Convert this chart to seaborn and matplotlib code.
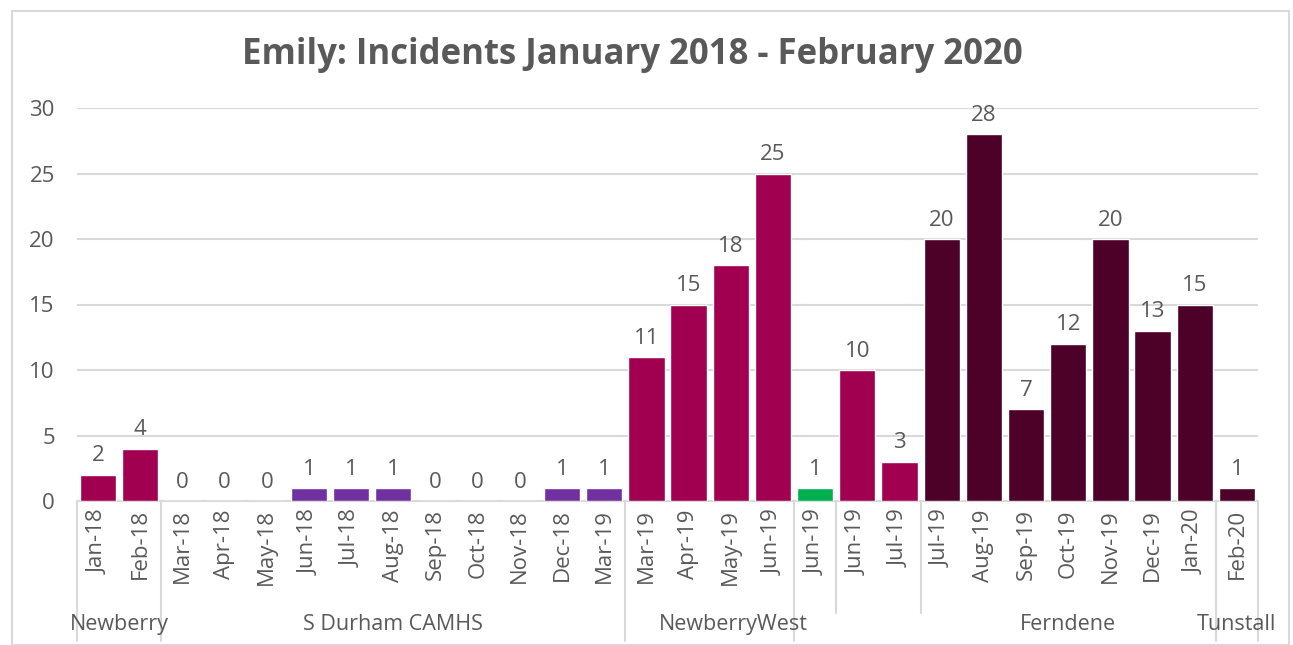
import matplotlib

matplotlib.use("Agg")
import matplotlib.pyplot as plt
import seaborn as sns
from matplotlib.lines import Line2D
from matplotlib.patches import Rectangle

# Month labels (some months repeat where Emily moved between units)
months = [
    "Jan-18", "Feb-18", "Mar-18", "Apr-18", "May-18", "Jun-18", "Jul-18",
    "Aug-18", "Sep-18", "Oct-18", "Nov-18", "Dec-18", "Mar-19", "Mar-19",
    "Apr-19", "May-19", "Jun-19", "Jun-19", "Jun-19", "Jul-19", "Jul-19",
    "Aug-19", "Sep-19", "Oct-19", "Nov-19", "Dec-19", "Jan-20", "Feb-20",
]
incidents = [2, 4, 0, 0, 0, 1, 1, 1, 0, 0, 0, 1, 1, 11, 15, 18, 25, 1, 10, 3,
             20, 28, 7, 12, 20, 13, 15, 1]
# unit each bar belongs to
units = ["Newberry"] * 2 + ["S Durham CAMHS"] * 11 + ["NewberryWest"] * 4 + \
        ["Green"] + ["Newberry2"] * 2 + ["Ferndene"] * 7 + ["Tunstall"]
unit_colors = {
    "Newberry": "#A0004F",
    "S Durham CAMHS": "#7030A0",
    "NewberryWest": "#A0004F",
    "Green": "#00B050",
    "Newberry2": "#A0004F",
    "Ferndene": "#4D0028",
    "Tunstall": "#4D0028",
}
# visible group captions along the bottom (label, first index, last index)
group_labels = [("Newberry", 0, 1), ("S Durham CAMHS", 2, 12),
                ("NewberryWest", 13, 17.1), ("Ferndene", 20, 26), ("Tunstall", 27, 27)]

TEXT = "#595959"
GRID = "#D9D9D9"

sns.set_theme(style="white")
plt.rcParams["font.family"] = ["Open Sans", "DejaVu Sans"]

fig = plt.figure(figsize=(12.93, 6.45), dpi=100)
ax = fig.add_axes([77 / 1293, 144 / 645, 1181 / 1293, 393 / 645])

pos = list(range(len(months)))
colors = [unit_colors[u] for u in units]
sns.barplot(x=pos, y=incidents, hue=pos, palette=colors, legend=False,
            width=0.86, saturation=1, ax=ax, zorder=3)

for c in ax.containers:
    ax.bar_label(c, padding=6, fontsize=16, color=TEXT)

ax.set_xlim(-0.5, len(months) - 0.5)
ax.set_ylim(0, 30)
ax.set_yticks(range(0, 31, 5))
ax.yaxis.grid(True, color=GRID, linewidth=1.5, zorder=0)
ax.set_axisbelow(True)
ax.set_xticks(pos)
ax.set_xticklabels(months, rotation=90, fontsize=16, color=TEXT)
ax.tick_params(axis="y", labelsize=16, colors=TEXT, length=0, pad=16)
ax.tick_params(axis="x", length=0, pad=6)
for s in ["top", "right", "left"]:
    ax.spines[s].set_visible(False)
ax.spines["bottom"].set_color(GRID)
ax.spines["bottom"].set_linewidth(1.5)

# group separator lines below the axis
trans = ax.get_xaxis_transform()
long_seps = [-0.5, 1.5, 12.5, 16.5, 26.5, 27.5]
short_seps = [17.5, 19.5]
for xs, bottom in [(long_seps, -0.355), (short_seps, -0.285)]:
    for xv in xs:
        ax.add_line(Line2D([xv, xv], [0, bottom], transform=trans, color=GRID,
                           linewidth=1.5, clip_on=False))

for name, a, b in group_labels:
    ax.text((a + b) / 2, -0.315, name, transform=trans, ha="center", va="center",
            fontsize=15.5, color=TEXT)

fig.text(0.489, 0.915, "Emily: Incidents January 2018 - February 2020",
         ha="center", va="center", fontsize=25, fontweight="bold", color=TEXT)

fig.patches.append(Rectangle((12 / 1293, 0), 1277 / 1293, 634 / 645,
                             transform=fig.transFigure, fill=False,
                             edgecolor=GRID, linewidth=1.5))

fig.savefig("out.png", dpi=100)
